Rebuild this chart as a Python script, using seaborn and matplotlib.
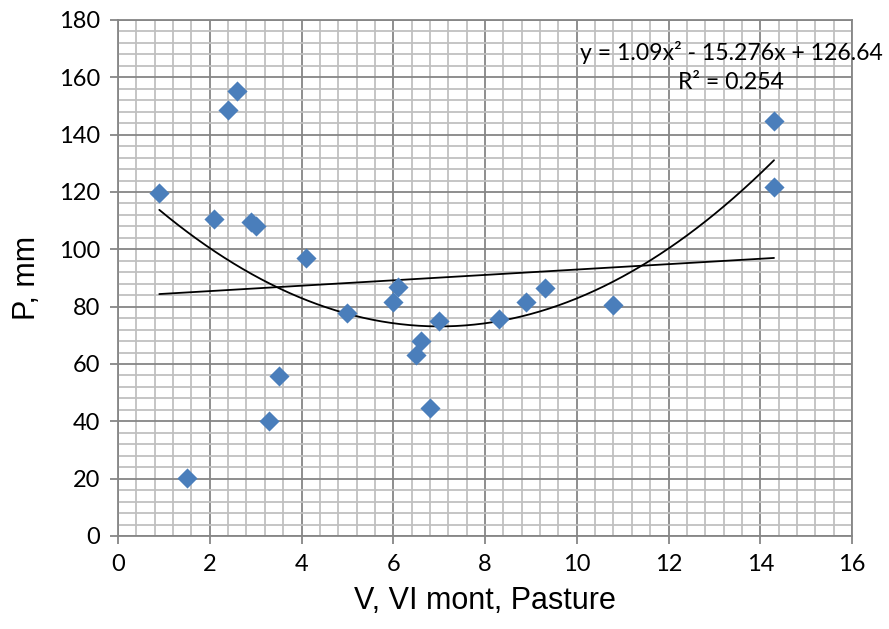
import numpy as np
import pandas as pd
import matplotlib
matplotlib.use("Agg")
import matplotlib.pyplot as plt
from matplotlib.ticker import MultipleLocator
import seaborn as sns

# Data
x_vals = [0.9, 1.5, 2.1, 2.4, 2.6, 2.9, 3.0, 3.3, 3.5, 4.1, 5.0, 6.0, 6.1,
          6.5, 6.6, 6.8, 7.0, 8.3, 8.9, 9.3, 10.8, 14.3, 14.3]
y_vals = [119.5, 20.2, 110.6, 148.6, 155.2, 109.5, 108.1, 40.1, 55.8, 97.0,
          77.8, 81.6, 86.9, 63.1, 68.0, 44.6, 75.0, 75.7, 81.6, 86.5, 80.6,
          144.8, 121.7]
quad_coef = [1.09, -15.276, 126.64]
lin_coef = [0.94, 83.55]
eq_text = "y = 1.09x² - 15.276x + 126.64"
r2_text = "R² = 0.254"
x_label = "V, VI mont, Pasture"
y_label = "P, mm"

df = pd.DataFrame({"x": x_vals, "y": y_vals})

sns.set_style("white")
plt.rcParams["font.family"] = ["Lato", "DejaVu Sans"]
plt.rcParams["text.color"] = "black"
plt.rcParams["axes.labelcolor"] = "black"
plt.rcParams["xtick.color"] = "black"
plt.rcParams["ytick.color"] = "black"

fig = plt.figure(figsize=(8.89, 6.29), dpi=100)
ax = fig.add_axes([118 / 889, 1 - 536 / 629, (852 - 118) / 889, (536 - 20) / 629])

ax.set_xlim(0, 16)
ax.set_ylim(0, 180)
ax.xaxis.set_major_locator(MultipleLocator(2))
ax.xaxis.set_minor_locator(MultipleLocator(0.4))
ax.yaxis.set_major_locator(MultipleLocator(20))
ax.yaxis.set_minor_locator(MultipleLocator(4))
ax.grid(which="minor", color="#c0c0c0", linewidth=1.3, zorder=0)
ax.grid(which="major", color="#868686", linewidth=1.3, zorder=0)
ax.set_axisbelow(True)
for s in ax.spines.values():
    s.set_color("#868686")
    s.set_linewidth(1.3)

ax.tick_params(which="major", direction="out", length=6, width=1.3,
               color="#868686", labelcolor="black", labelsize=17, pad=7,
               left=True, bottom=True)
ax.tick_params(which="minor", length=0)

# trendlines
xs = np.linspace(min(x_vals), max(x_vals), 200)
ax.plot(xs, np.polyval(quad_coef, xs), color="black", linewidth=1.3, zorder=2)
ax.plot(xs, np.polyval(lin_coef, xs), color="black", linewidth=1.3, zorder=2)

sns.scatterplot(data=df, x="x", y="y", ax=ax, marker="D", s=105,
                color="#4a7ebb", edgecolor="#4a7ebb", linewidth=0, zorder=3)

ax.text(13.36, 168.8, eq_text, ha="center", va="center", fontsize=16.6,
        color="black", family=["Lato", "DejaVu Sans"], clip_on=False, zorder=4)
ax.text(13.36, 158.2, r2_text, ha="center", va="center", fontsize=16.6,
        color="black", family=["Lato", "DejaVu Sans"], zorder=4)

ax.set_xlabel(x_label, fontsize=22, family=["Liberation Sans"], labelpad=8,
              color="black")
ax.set_ylabel(y_label, fontsize=22, family=["Liberation Sans"], labelpad=12,
              color="black")

fig.savefig("out.png", dpi=100)
